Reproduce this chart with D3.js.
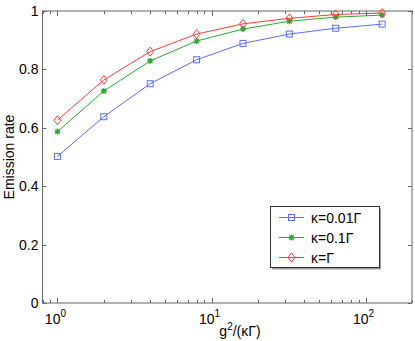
<!DOCTYPE html>
<html><head><meta charset="utf-8">
<script src="https://cdn.jsdelivr.net/npm/d3@7"></script>
<style>body{margin:0;background:#fff;} text{font-family:"Liberation Sans",Arial,sans-serif;}</style>
</head><body>
<svg id="c" width="415" height="341"></svg>
<script>
const xs = [1, 2, 4, 8, 16, 32, 64, 128];
const blueVals = [0.502, 0.638, 0.751, 0.833, 0.889, 0.921, 0.941, 0.955];
const greenVals = [0.587, 0.726, 0.829, 0.897, 0.938, 0.965, 0.979, 0.986];
const redVals = [0.626, 0.764, 0.861, 0.921, 0.956, 0.975, 0.988, 0.993];
const seriesNames = ["κ=0.01Γ", "κ=0.1Γ", "κ=Γ"];
const yTicks = [0, 0.2, 0.4, 0.6, 0.8, 1];
const xMajor = [1, 10, 100];
const xMajorExp = ["0", "1", "2"];

const svg = d3.select("#c");
const L = 42.5, R = 412, T = 11, B = 303;
const x = d3.scaleLog().domain([0.8, 200]).range([L, R]);
const y = d3.scaleLinear().domain([0, 1]).range([B, T]);
const axisCol = "#666";

// frame
svg.append("rect").attr("x", L).attr("y", T).attr("width", R - L).attr("height", B - T)
  .attr("fill", "none").attr("stroke", axisCol).attr("stroke-width", 1);

// x minor & major ticks
const minor = [];
for (let d = 0.1; d <= 100; d *= 10) for (let k = 1; k <= 9; k++) {
  const v = +(d * k).toPrecision(3);
  if (v >= 0.8 && v <= 200) minor.push(v);
}
const tg = svg.append("g").attr("stroke", axisCol).attr("stroke-width", 1);
minor.forEach(v => {
  const isMajor = xMajor.includes(v);
  const len = isMajor ? 5 : 3;
  const px = Math.round(x(v)) + 0.5;
  tg.append("line").attr("x1", px).attr("x2", px).attr("y1", B).attr("y2", B - len);
  tg.append("line").attr("x1", px).attr("x2", px).attr("y1", T).attr("y2", T + len);
});
yTicks.forEach(v => {
  const py = Math.round(y(v)) + 0.5;
  tg.append("line").attr("x1", L).attr("x2", L + 4).attr("y1", py).attr("y2", py);
  tg.append("line").attr("x1", R).attr("x2", R - 4).attr("y1", py).attr("y2", py);
});

// y tick labels
svg.append("g").selectAll("text").data(yTicks).join("text")
  .attr("x", L - 4).attr("y", d => y(d) + 5)
  .attr("text-anchor", "end").attr("font-size", 14).attr("fill", "#000")
  .text(d => d === 0 ? "0" : d === 1 ? "1" : d.toFixed(1));

// x tick labels 10^n
xMajor.forEach((v, i) => {
  const t = svg.append("text").attr("x", x(v) - 2).attr("y", B + 21)
    .attr("text-anchor", "middle").attr("font-size", 14).attr("fill", "#000");
  t.append("tspan").text("10");
  t.append("tspan").attr("dy", -7).attr("font-size", 10).text(xMajorExp[i]);
});

// axis labels
const xl = svg.append("text").attr("x", 240).attr("y", 336).attr("text-anchor", "middle")
  .attr("font-size", 14).attr("fill", "#000");
xl.append("tspan").text("g");
xl.append("tspan").attr("dy", -6).attr("font-size", 10).text("2");
xl.append("tspan").attr("dy", 6).text("/(κΓ)");

svg.append("text").attr("transform", "translate(14,157) rotate(-90)")
  .attr("text-anchor", "middle").attr("font-size", 14).attr("fill", "#000").text("Emission rate");

// series
const series = [
  {vals: blueVals, color: "#5a6eff", marker: "square"},
  {vals: greenVals, color: "#2ea82e", marker: "star"},
  {vals: redVals, color: "#ff3b3b", marker: "diamond"}
];
const line = d3.line().x(d => x(d[0])).y(d => y(d[1]));

function drawMarker(g, mx, my, type, color) {
  if (type === "square") {
    g.append("rect").attr("x", mx - 3).attr("y", my - 3).attr("width", 6).attr("height", 6)
      .attr("fill", "none").attr("stroke", color).attr("stroke-width", 1);
  } else if (type === "diamond") {
    g.append("path").attr("d", `M${mx},${my-4.5}L${mx+3.5},${my}L${mx},${my+4.5}L${mx-3.5},${my}Z`)
      .attr("fill", "none").attr("stroke", color).attr("stroke-width", 1);
  } else {
    const r = 3;
    g.append("path").attr("d",
      `M${mx-r},${my}L${mx+r},${my}M${mx},${my-r}L${mx},${my+r}M${mx-2.2},${my-2.2}L${mx+2.2},${my+2.2}M${mx-2.2},${my+2.2}L${mx+2.2},${my-2.2}`)
      .attr("stroke", color).attr("stroke-width", 1.3);
  }
}

series.forEach(s => {
  const pts = xs.map((v, i) => [v, s.vals[i]]);
  const g = svg.append("g");
  g.append("path").attr("d", line(pts)).attr("fill", "none").attr("stroke", s.color).attr("stroke-width", 1);
  pts.forEach(p => drawMarker(g, x(p[0]), y(p[1]), s.marker, s.color));
});

// legend
const lg = svg.append("g");
lg.append("rect").attr("x", 272).attr("y", 208.5).attr("width", 109).attr("height", 61).attr("fill", "#999");
lg.append("rect").attr("x", 270.5).attr("y", 206.5).attr("width", 109).attr("height", 61)
  .attr("fill", "#fff").attr("stroke", "#333").attr("stroke-width", 1);
const ly = [217.5, 237.5, 257.5];
series.forEach((s, i) => {
  lg.append("line").attr("x1", 279).attr("x2", 304).attr("y1", ly[i]).attr("y2", ly[i])
    .attr("stroke", s.color).attr("stroke-width", 1);
  drawMarker(lg, 291.5, ly[i], s.marker, s.color);
  lg.append("text").attr("x", 311).attr("y", ly[i] + 5).attr("font-size", 14).attr("fill", "#000")
    .text(seriesNames[i]);
});
</script>
</body></html>
